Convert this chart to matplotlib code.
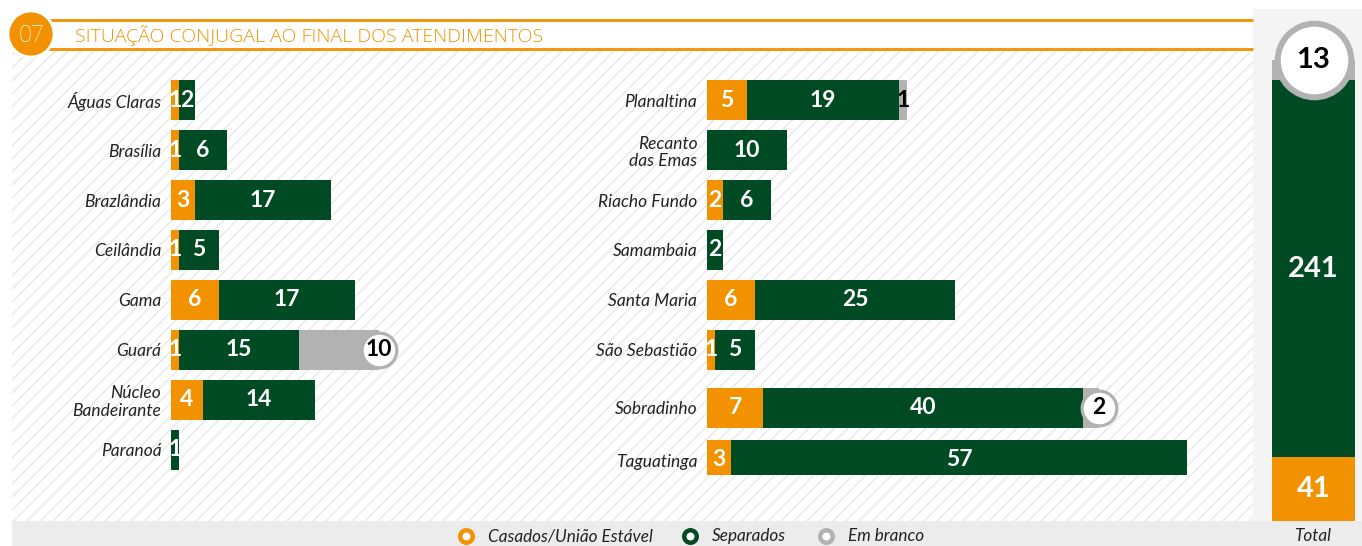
import matplotlib
matplotlib.use('Agg')
import matplotlib.pyplot as plt
from matplotlib.patches import Rectangle, Circle
import numpy as np

# ---------------- data ----------------
title = 'SITUAÇÃO CONJUGAL AO FINAL DOS ATENDIMENTOS'
chart_no = '07'
series_names = ['Casados/União Estável', 'Separados', 'Em branco']

left_cats = ['Águas Claras', 'Brasília', 'Brazlândia', 'Ceilândia', 'Gama', 'Guará',
             'Núcleo\nBandeirante', 'Paranoá']
left_casados = [1, 1, 3, 1, 6, 1, 4, 0]
left_separados = [2, 6, 17, 5, 17, 15, 14, 1]
left_branco = [0, 0, 0, 0, 0, 10, 0, 0]

right_cats = ['Planaltina', 'Recanto\ndas Emas', 'Riacho Fundo', 'Samambaia', 'Santa Maria',
              'São Sebastião', 'Sobradinho', 'Taguatinga']
right_casados = [5, 0, 2, 0, 6, 1, 7, 3]
right_separados = [19, 10, 6, 2, 25, 5, 40, 57]
right_branco = [1, 0, 0, 0, 0, 0, 2, 0]

total_label = 'Total'
total_values = [41, 241, 13]

# ---------------- style ----------------
ORANGE = '#F39200'
GREEN = '#004B23'
GRAY = '#B2B2B2'
FONT = ['Lato', 'DejaVu Sans']
plt.rcParams['font.family'] = FONT

W, H = 1362, 546
fig = plt.figure(figsize=(W / 100, H / 100), dpi=100)


def px_axes(x0, y0, x1, y1, **kw):
    return fig.add_axes([x0 / W, 1 - y1 / H, (x1 - x0) / W, (y1 - y0) / H], **kw)


# background decorations
bg = px_axes(0, 0, W, H, zorder=0)
bg.set_xlim(0, W)
bg.set_ylim(H, 0)
bg.axis('off')
bg.add_patch(Rectangle((1253, 9), W - 1253, 521 - 9, color='#f4f4f4', lw=0))
bg.add_patch(Rectangle((12, 521), W - 12, H - 521, color='#ececec', lw=0))

# legend
leg_cols = [ORANGE, GREEN, GRAY]
leg_mx = [466, 690, 826]
for name, col, mx in zip(series_names, leg_cols, leg_mx):
    bg.plot(mx, 536, 'o', ms=9, mfc='white', mec=col, mew=3.2)
    bg.text(mx + 22, 536, name, fontsize=12.3, style='italic', ha='left', va='center', color='#222222')
bg.text(1313, 536, total_label, fontsize=12.3, style='italic', ha='center', va='center', color='#222222')

# hatch
hx = px_axes(12, 50, 1253, 521, zorder=0.5)
hx.set_xlim(12, 1253)
hx.set_ylim(521, 50)
hx.axis('off')
for x0 in np.arange(-480, 1260, 13):
    hx.plot([x0, x0 + 471], [521, 50], color='#e8e8e8', lw=1)

# header overlay
hd = px_axes(0, 0, W, H, zorder=1)
hd.set_xlim(0, W)
hd.set_ylim(H, 0)
hd.axis('off')
hd.plot([45, 1253], [20, 20], color=ORANGE, lw=2, solid_capstyle='butt')
hd.plot([45, 1253], [49, 49], color=ORANGE, lw=2, solid_capstyle='butt')
hd.add_patch(Circle((31, 34), 23, facecolor=ORANGE, edgecolor='white', lw=2, zorder=3))
hd.text(31, 35, chart_no, color='white', fontsize=17, ha='center', va='center',
        family=['Roboto', 'DejaVu Sans'], fontweight='light', zorder=4)
hd.text(75, 36, title, color=ORANGE, fontsize=14, ha='left', va='center',
        family=['Open Sans', 'DejaVu Sans'], fontweight='light')


def draw_panel(ax, cats, rows, cas, sep, bra):
    cas = np.array(cas)
    sep = np.array(sep)
    bra = np.array(bra)
    ax.barh(rows, cas, height=0.8, color=ORANGE, lw=0)
    ax.barh(rows, sep, left=cas, height=0.8, color=GREEN, lw=0)
    ax.barh(rows, bra, left=cas + sep, height=0.8, color=GRAY, lw=0)
    tk = dict(fontsize=16.5, fontweight='bold', ha='center', va='center')
    for r, c, s, b in zip(rows, cas, sep, bra):
        if c:
            ax.text(c / 2, r, str(c), color='white', **tk)
        if s:
            ax.text(c + s / 2, r, str(s), color='white', **tk)
        if b > 1:
            ax.plot(c + s + b, r, 'o', ms=25, mfc='white', mec=GRAY, mew=2.3, clip_on=False, zorder=4)
            ax.text(c + s + b, r, str(b), color='black', zorder=5, **tk)
        elif b:
            ax.text(c + s + b / 2, r, str(b), color='black', zorder=5, **tk)
    ax.set_yticks(rows)
    ax.set_yticklabels(cats, style='italic', fontsize=12.5, color='#222222', linespacing=1.15)
    ax.tick_params(axis='y', length=0, pad=7)
    ax.set_xticks([])
    for sp in ax.spines.values():
        sp.set_visible(False)
    ax.patch.set_alpha(0)


left_rows = [0, 1, 2, 3, 4, 5, 6, 7]
right_rows = [0, 1, 2, 3, 4, 5, 6.16, 7.2]

axL = px_axes(171, 75, 571, 475, zorder=2)
axL.set_xlim(0, 50)
axL.set_ylim(7.5, -0.5)
draw_panel(axL, left_cats, left_rows, left_casados, left_separados, left_branco)

axR = px_axes(707, 75, 1247, 475, zorder=2)
axR.set_xlim(0, 67.5)
axR.set_ylim(7.5, -0.5)
draw_panel(axR, right_cats, right_rows, right_casados, right_separados, right_branco)

# total column
axT = px_axes(1272, 60, 1355, 521, zorder=2)
axT.set_xlim(-0.5, 0.5)
axT.set_ylim(0, sum(total_values))
bottoms = np.cumsum([0] + total_values[:-1])
for v, b, col in zip(total_values, bottoms, leg_cols):
    axT.bar(0, v, bottom=b, width=1, color=col, lw=0)
tkT = dict(fontsize=21, fontweight='bold', ha='center', va='center')
axT.text(0, bottoms[0] + total_values[0] / 2, str(total_values[0]), color='white', **tkT)
axT.text(0, bottoms[1] + total_values[1] / 2, str(total_values[1]), color='white', **tkT)
axT.plot(0, sum(total_values), 'o', ms=53, mfc='white', mec=GRAY, mew=4.3, clip_on=False, zorder=4)
axT.text(0, sum(total_values), str(total_values[2]), color='black', zorder=5, **tkT)
axT.axis('off')

fig.savefig('out.png', dpi=100)
